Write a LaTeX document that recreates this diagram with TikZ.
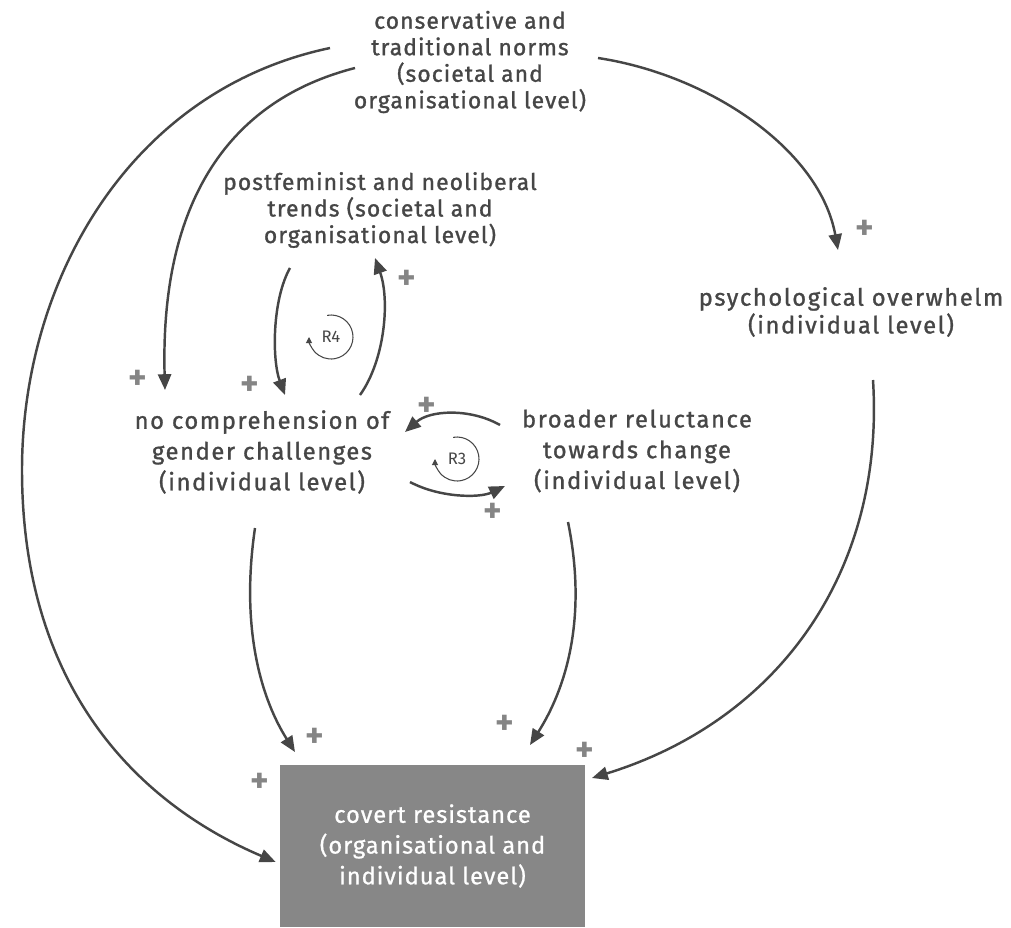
\documentclass[tikz,border=0pt]{standalone}
\usepackage{fontspec}
\setmainfont{Fira Sans}
\newfontfamily\topfont{Fira Sans}[FakeBold=1.2, LetterSpace=4.8]
\newfontfamily\midfont{Fira Sans}[FakeBold=1.2, LetterSpace=6.8]
\newfontfamily\boxfont{Fira Sans}[FakeBold=0.8, LetterSpace=4]
\usetikzlibrary{arrows.meta,calc}
\definecolor{ink}{HTML}{464646}
\definecolor{plusgray}{HTML}{858585}
\definecolor{boxgray}{HTML}{878787}
\begin{document}
\begin{tikzpicture}[x=0.02cm,y=-0.02cm,
  var/.style={align=center, text=ink, inner sep=0pt, font=\topfont\fontsize{13}{15.1}\selectfont},
  varbig/.style={align=center, text=ink, inner sep=0pt, font=\midfont\fontsize{13.5}{17.5}\selectfont},
  link/.style={draw=ink, line width=1.4pt, -{Triangle[length=9pt,width=7.5pt]}},
  pol/.style={text=plusgray, inner sep=0pt, font=\fontsize{20}{20}\selectfont\bfseries},
  looplabel/.style={text=ink, inner sep=0pt, font=\fontsize{9.5}{9.5}\selectfont},
  loopsym/.style={draw=ink, line width=0.6pt, -{Triangle[length=3.5pt,width=3.5pt]}}
]
\useasboundingbox (0,0) rectangle (1011,927);

% variables
\node[var] (cons) at (470,62) {conservative and\\traditional norms\\(societal and\\organisational level)};
\node[var] (post) at (380,210) {postfeminist and neoliberal\\trends (societal and\\organisational level)};
\node[varbig, font=\midfont\fontsize{13.5}{15.8}\selectfont] (psych) at (851,312) {psychological overwhelm\\(individual level)};
\node[varbig] (nocomp) at (262,452) {no comprehension of\\gender challenges\\(individual level)};
\node[varbig] (broader) at (637,451) {broader reluctance\\towards change\\(individual level)};
\node[fill=boxgray, text=white, align=center, minimum width=6.1cm, minimum height=3.24cm,
      inner sep=0pt, font=\boxfont\fontsize{13.5}{17.5}\selectfont] (covert) at (432.5,846)
      {covert resistance\\(organisational and\\individual level)};

% causal links
\draw[link] ($(cons)+(-115,6)$) .. controls (230,100) and (160,200) .. ($(nocomp)+(-97,-62)$);
\draw[link] ($(cons)+(-140,-14)$) .. controls (130,90) and (22,280) .. (22,470)
            .. controls (22,680) and (130,800) .. ($(covert.west)+(-4,16)$);
\draw[link] ($(cons)+(128,-4)$) .. controls (710,75) and (820,150) .. ($(psych)+(-13,-62)$);
\draw[link] ($(post)+(-90,58)$) .. controls (272,300) and (272,360) .. ($(nocomp)+(23,-57)$);
\draw[link] ($(nocomp)+(98,-57)$) .. controls (385,360) and (390,300) .. ($(post)+(-5,48)$);
\draw[link] ($(broader)+(-137,-26)$) .. controls (470,408) and (430,410) .. ($(nocomp)+(143,-20)$);
\draw[link] ($(nocomp)+(148,30)$) .. controls (440,498) and (480,498) .. ($(broader)+(-132,35)$);
\draw[link] ($(nocomp)+(-7,76)$) .. controls (240,630) and (262,700) .. ($(covert)+(-137.5,-94)$);
\draw[link] ($(broader)+(-69,71)$) .. controls (588,620) and (565,690) .. ($(covert)+(97.5,-101)$);
\draw[link] ($(psych)+(22,68)$) .. controls (885,570) and (780,720) .. ($(covert)+(159.5,-68)$);

% polarities
\node[pol] (p1) at (865,230) {+};
\node[pol] (p2) at (407,280) {+};
\node[pol] (p3) at (138,380) {+};
\node[pol] (p4) at (250,386) {+};
\node[pol] (p5) at (427,407) {+};
\node[pol] (p6) at (493,513) {+};
\node[pol] (p7) at (315,738) {+};
\node[pol] (p8) at (505,725) {+};
\node[pol] (p9) at (585,752) {+};
\node[pol] (p10) at (260,783) {+};

% reinforcing loops
\node[looplabel] (r4) at (331,337) {R4};
\draw[loopsym] ($(r4)+(-100:22)$) arc[start angle=-100, end angle=180, radius=22];
\node[looplabel] (r3) at (457,459) {R3};
\draw[loopsym] ($(r3)+(-100:22)$) arc[start angle=-100, end angle=180, radius=22];
\end{tikzpicture}
\end{document}
